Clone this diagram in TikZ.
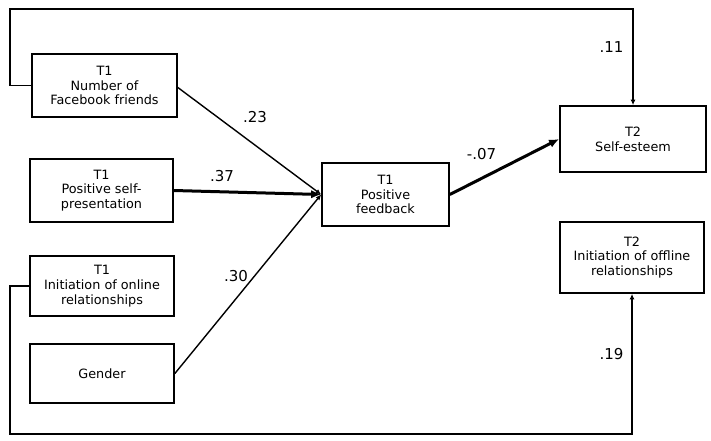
\documentclass[tikz,border=0pt]{standalone}
\usepackage{fontspec}
\setmainfont{DejaVu Sans}
\usetikzlibrary{arrows.meta,calc}
\begin{document}
\begin{tikzpicture}[x=1pt,y=-1pt,
  box/.style={draw, line width=1.7pt, align=center, inner sep=0pt,
    font=\fontsize{12.8}{14.7}\selectfont},
  lbl/.style={font=\fontsize{15}{16}\selectfont, inner sep=0pt},
  conn/.style={line width=1.4pt, -{Latex[length=5.5pt,width=5pt]}},
  heavyconn/.style={line width=3pt, -{Latex[length=10pt,width=8.5pt]}}]
\useasboundingbox (0,0) rectangle (711,440);

\node[box, minimum width=145pt, minimum height=63pt] (A) at (104.5,85.5) {T1\\Number of\\Facebook friends};
\node[box, minimum width=143pt, minimum height=63pt] (B) at (101.5,190.5) {T1\\Positive self-\\presentation};
\node[box, minimum width=144pt, minimum height=60pt] (C) at (102,286) {T1\\Initiation of online\\relationships};
\node[box, minimum width=144pt, minimum height=59pt] (D) at (102,373.5) {Gender};
\node[box, minimum width=127pt, minimum height=63pt] (E) at (385.5,194.5) {T1\\Positive\\feedback};
\node[box, minimum width=146pt, minimum height=66pt] (F) at (633,139) {T2\\Self-esteem};
\node[box, minimum width=144pt, minimum height=71pt] (G) at (632,257.5) {T2\\Initiation of offline\\relationships};

\coordinate (tl) at (10,9);
\coordinate (bl) at (10,434);

\draw[conn] ($(A.east)+(0,2)$) -- (E.west);
\draw[heavyconn] (B.east) -- (E.west);
\draw[conn] (D.east) -- (E.west);
\draw[heavyconn] (E.east) -- (F.west);
\draw[conn] (A.west) -| (tl) -| (F.north);
\draw[conn] (C.west) -| (bl) -| (G.south);

\node[lbl] (l23) at (255,117.5) {.23};
\node[lbl] (l37) at (222,176) {.37};
\node[lbl] (l30) at (236,276) {.30};
\node[lbl] (l07) at (481.5,154) {-.07};
\node[lbl] (l11) at (611.5,47.5) {.11};
\node[lbl] (l19) at (611.5,354) {.19};
\end{tikzpicture}
\end{document}
